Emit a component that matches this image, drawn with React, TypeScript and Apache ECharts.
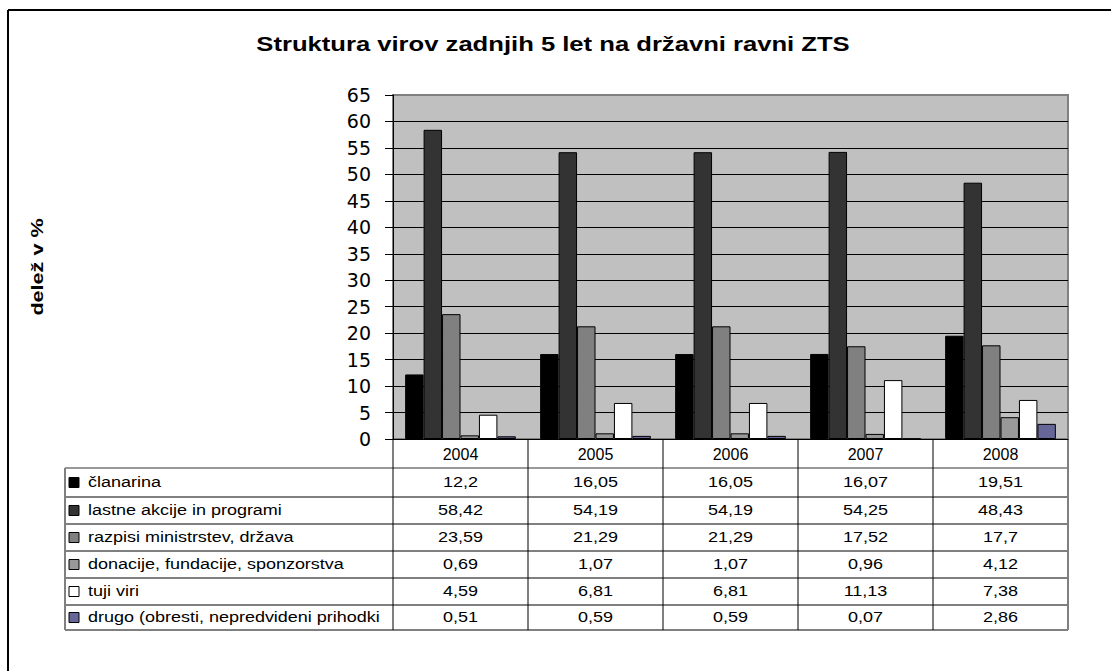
import React, { useEffect, useRef } from "react";
import * as echarts from "echarts";

const titleText = "Struktura virov zadnjih 5 let na državni ravni ZTS";
const yAxisTitle = "delež v %";
const years = ["2004", "2005", "2006", "2007", "2008"];
const seriesNames = [
  "članarina",
  "lastne akcije in programi",
  "razpisi ministrstev, država",
  "donacije, fundacije, sponzorstva",
  "tuji viri",
  "drugo (obresti, nepredvideni prihodki",
];
const seriesColors = ["#000000", "#333333", "#808080", "#999999", "#FFFFFF", "#666699"];
const clanarina = [12.2, 16.05, 16.05, 16.07, 19.51];
const lastneAkcije = [58.42, 54.19, 54.19, 54.25, 48.43];
const razpisi = [23.59, 21.29, 21.29, 17.52, 17.7];
const donacije = [0.69, 1.07, 1.07, 0.96, 4.12];
const tujiViri = [4.59, 6.81, 6.81, 11.13, 7.38];
const drugo = [0.51, 0.59, 0.59, 0.07, 2.86];
const seriesValues = [clanarina, lastneAkcije, razpisi, donacije, tujiViri, drugo];
const yMin = 0;
const yMax = 65;
const yStep = 5;

const FONT = "'Liberation Sans', Arial, sans-serif";

export default function App() {
  const ref = useRef<HTMLDivElement>(null);

  useEffect(() => {
    document.body.style.margin = "0";
    const chart = echarts.init(ref.current as HTMLDivElement, null, { renderer: "svg" });
    chart.setOption({
      animation: false,
      backgroundColor: "#FFFFFF",
      grid: {
        left: 393,
        top: 95,
        right: 43,
        bottom: 232,
        show: true,
        backgroundColor: "#C0C0C0",
        borderColor: "#808080",
        borderWidth: 2,
      },
      xAxis: {
        type: "category",
        data: years,
        axisLine: { show: true, lineStyle: { color: "#000", width: 1 } },
        axisTick: { show: false },
        axisLabel: { fontFamily: FONT, fontSize: 16, color: "#000", margin: 7 },
        splitLine: { show: false },
      },
      yAxis: {
        type: "value",
        min: yMin,
        max: yMax,
        interval: yStep,
        axisLine: { show: true, lineStyle: { color: "#000", width: 1 } },
        axisTick: { show: true, length: 8, lineStyle: { color: "#000" } },
        axisLabel: { fontFamily: "'DejaVu Sans', sans-serif", fontSize: 19, color: "#000", margin: 22 },
        splitLine: { show: true, showMaxLine: false, lineStyle: { color: "#000", width: 1 } },
      },
      series: seriesNames.map((name, i) => ({
        name,
        type: "bar",
        data: seriesValues[i],
        barGap: "0%",
        barCategoryGap: "18%",
        itemStyle: { color: seriesColors[i], borderColor: "#000", borderWidth: 1 },
      })),
    });

    // Build the data table from the same arrays, positioned via the library's scales
    const centers = years.map((_, i) => chart.convertToPixel({ xAxisIndex: 0 }, i) as number);
    const colW = centers.length > 1 ? centers[1] - centers[0] : 135;
    const bounds = [centers[0] - colW / 2, ...centers.map((c) => c + colW / 2)];
    const y0 = chart.convertToPixel({ yAxisIndex: 0 }, 0) as number;
    const headerH = 29;
    const rowHeights = [29, 27, 27, 27, 27, 25];
    const rowTops: number[] = [];
    let acc = y0 + headerH;
    rowHeights.forEach((h) => {
      rowTops.push(acc);
      acc += h;
    });
    const tableBottom = acc;
    const legendLeft = 65;
    const plotRight = bounds[bounds.length - 1];

    const g: any[] = [];
    // outer frame (top and left)
    g.push({ type: "line", shape: { x1: 8, y1: 10, x2: 1111, y2: 10 }, style: { stroke: "#000", lineWidth: 2 } });
    g.push({ type: "line", shape: { x1: 8, y1: 10, x2: 8, y2: 671 }, style: { stroke: "#000", lineWidth: 2 } });

    // title
    g.push({
      type: "text",
      x: 553,
      y: 44,
      scaleX: 1.25,
      style: {
        text: titleText,
        font: `bold 20.5px ${FONT}`,
        fill: "#000",
        align: "center",
        verticalAlign: "middle",
      },
    });
    // y axis title (rotated)
    g.push({
      type: "text",
      x: 38,
      y: 267,
      rotation: Math.PI / 2,
      scaleX: 1.35,
      style: {
        text: yAxisTitle,
        font: `bold 16px ${FONT}`,
        fill: "#000",
        align: "center",
        verticalAlign: "middle",
      },
    });

    // table horizontal lines
    rowTops.forEach((t, r) => {
      g.push({
        type: "line",
        shape: { x1: legendLeft, y1: t, x2: plotRight, y2: t },
        style: { stroke: r === 0 ? "#333" : "#000", lineWidth: 1 },
      });
    });
    g.push({
      type: "line",
      shape: { x1: legendLeft, y1: tableBottom, x2: plotRight, y2: tableBottom },
      style: { stroke: "#808080", lineWidth: 2 },
    });
    // table vertical lines
    g.push({
      type: "line",
      shape: { x1: legendLeft, y1: rowTops[0], x2: legendLeft, y2: tableBottom },
      style: { stroke: "#808080", lineWidth: 2 },
    });
    bounds.forEach((b, i) => {
      const last = i === bounds.length - 1;
      g.push({
        type: "line",
        shape: { x1: b, y1: y0, x2: b, y2: tableBottom },
        style: { stroke: last ? "#808080" : "#000", lineWidth: last ? 2 : 1 },
      });
    });

    // legend column and values
    seriesNames.forEach((name, r) => {
      const cy = rowTops[r] + rowHeights[r] / 2;
      g.push({
        type: "rect",
        shape: { x: 69, y: cy - 5, width: 10, height: 10 },
        style: { fill: seriesColors[r], stroke: "#000", lineWidth: 1 },
      });
      g.push({
        type: "text",
        x: 88,
        y: cy,
        scaleX: 1.2,
        style: {
          text: name,
          font: `15px ${FONT}`,
          fill: "#000",
          align: "left",
          verticalAlign: "middle",
        },
      });
      seriesValues[r].forEach((v, c) => {
        g.push({
          type: "text",
          x: centers[c],
          y: cy,
          scaleX: 1.2,
          style: {
            text: String(v).replace(".", ","),
            font: `15px ${FONT}`,
            fill: "#000",
            align: "center",
            verticalAlign: "middle",
          },
        });
      });
    });

    chart.setOption({ graphic: g });

    return () => chart.dispose();
  }, []);

  return <div ref={ref} style={{ width: 1111, height: 671 }} />;
}
